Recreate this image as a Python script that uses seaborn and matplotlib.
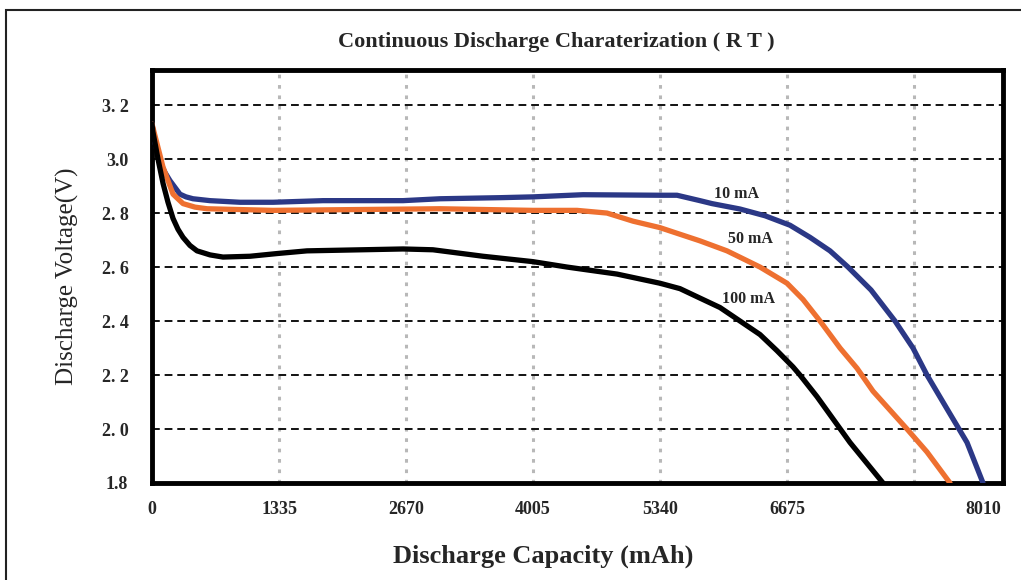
import matplotlib
matplotlib.use("Agg")
import matplotlib.pyplot as plt
import seaborn as sns
import pandas as pd
from matplotlib.patches import Rectangle

# ---- data ----
cap_10mA = [0, 32, 84, 137, 189, 294, 357, 431, 610, 925, 1272, 1797, 2638, 3027, 3657, 4004,
            4530, 5339, 5518, 5759, 5886, 6180, 6443, 6705, 6916, 7126, 7315, 7557, 7809,
            7998, 8145, 8355, 8566, 8734]
volt_10mA = [3.13, 3.06, 2.99, 2.95, 2.92, 2.87, 2.86, 2.853, 2.846, 2.84, 2.84, 2.846, 2.846, 2.853,
             2.857, 2.86, 2.868, 2.866, 2.866, 2.846, 2.835, 2.815, 2.79, 2.755, 2.71, 2.66, 2.60,
             2.515, 2.40, 2.30, 2.20, 2.075, 1.95, 1.80]

cap_50mA = [0, 116, 221, 326, 452, 578, 1272, 3027, 4004, 4467, 4782, 5055, 5339, 5759, 6043,
            6390, 6674, 6842, 7021, 7231, 7410, 7578, 7935, 8145, 8387]
volt_50mA = [3.13, 2.97, 2.87, 2.835, 2.822, 2.816, 2.81, 2.816, 2.81, 2.81, 2.80, 2.77, 2.746, 2.697,
             2.66, 2.60, 2.54, 2.48, 2.40, 2.30, 2.225, 2.14, 2.00, 1.915, 1.80]

cap_100mA = [0, 10, 63, 116, 168, 221, 273, 326, 399, 473, 610, 746, 1030, 1314, 1629, 2638,
             2953, 3479, 4004, 4362, 4887, 5339, 5549, 5759, 5970, 6180, 6390, 6569, 6737,
             6810, 6989, 7336, 7683]
volt_100mA = [3.13, 3.10, 3.00, 2.91, 2.84, 2.78, 2.74, 2.71, 2.68, 2.66, 2.645, 2.637, 2.64, 2.65,
              2.66, 2.667, 2.664, 2.64, 2.62, 2.60, 2.574, 2.54, 2.52, 2.485, 2.45, 2.40, 2.35,
              2.29, 2.23, 2.20, 2.12, 1.95, 1.80]

series_names = ["10mA", "50mA", "100mA"]
series_labels = ["10 mA", "50 mA", "100 mA"]
label_pos = [(6148, 2.872), (6285, 2.705), (6274, 2.48)]

x_grid_ticks = [0, 1335, 2670, 4005, 5340, 6675, 8010]
x_tick_labels = ["0", "1335", "2670", "4005", "5340", "6675", ""]
last_label = "8010"
y_ticks = [1.8, 2.0, 2.2, 2.4, 2.6, 2.8, 3.0, 3.2]
y_tick_labels = ["1.8", "2. 0", "2. 2", "2. 4", "2. 6", "2. 8", "3.0", "3. 2"]

colors = {"10mA": "#2b3886", "50mA": "#ee7030", "100mA": "#000000"}

frames = []
for name, c, v in [("10mA", cap_10mA, volt_10mA), ("50mA", cap_50mA, volt_50mA),
                   ("100mA", cap_100mA, volt_100mA)]:
    frames.append(pd.DataFrame({"cap": c, "volt": v, "series": name}))
df = pd.concat(frames, ignore_index=True)

# ---- figure ----
sns.set_style("white")
plt.rcParams["font.family"] = ["Liberation Serif", "DejaVu Serif"]

fig = plt.figure(figsize=(10.21, 5.80), dpi=100)
ax = fig.add_axes([152 / 1021, 1 - 483 / 580, (1003 - 152) / 1021, (483 - 70) / 580])

sns.lineplot(data=df, x="cap", y="volt", hue="series", palette=colors, sort=False,
             estimator=None, linewidth=3.8, legend=False, ax=ax, zorder=3,
             solid_capstyle="round", solid_joinstyle="round")

ax.set_xlim(0, 8944)
ax.set_ylim(1.8, 3.33)

ax.set_xticks(x_grid_ticks)
ax.set_xticklabels(x_tick_labels, fontsize=13, fontweight="bold")
ax.set_xticks([cap_10mA[-1]], [last_label], minor=True, fontsize=13, fontweight="bold")
ax.set_yticks(y_ticks)
ax.set_yticklabels(y_tick_labels, fontsize=13, fontweight="bold")
ax.tick_params(axis="both", which="both", length=0)
ax.tick_params(axis="x", which="both", pad=13)
ax.tick_params(axis="y", pad=17)

ax.xaxis.grid(True, which="major", color="#b8b8b8", linestyle=(0, (1.2, 2.2)), linewidth=2.2, zorder=1)
ax.yaxis.grid(True, which="major", color="#111111", linestyle=(0, (4, 2.5)), linewidth=1.4, zorder=1)
ax.set_axisbelow(True)

for sp in ax.spines.values():
    sp.set_visible(True)
    sp.set_linewidth(3.5)
    sp.set_color("black")

for name, lab, (lx, ly) in zip(series_names, series_labels, label_pos):
    ax.text(lx, ly, lab, fontsize=11.5, fontweight="bold", ha="center", va="center", zorder=4)

ax.set_xlabel("")
ax.set_ylabel("Discharge Voltage(V)", fontsize=18, labelpad=16)
fig.text(543 / 1021, 1 - 556 / 580, "Discharge Capacity (mAh)",
         fontsize=19, fontweight="bold", ha="center", va="center")
fig.text(556 / 1021, 1 - 42 / 580, "Continuous Discharge Charaterization ( R T )",
         fontsize=16, fontweight="bold", ha="center", va="center")

# outer frame (only left and top edges fall inside the picture)
fig.patches.append(Rectangle((6 / 1021, -0.1), 1.2, 1 - 10 / 580 + 0.1, transform=fig.transFigure,
                             fill=False, edgecolor="#222222", linewidth=1.5))

fig.savefig("out.png", dpi=100)
